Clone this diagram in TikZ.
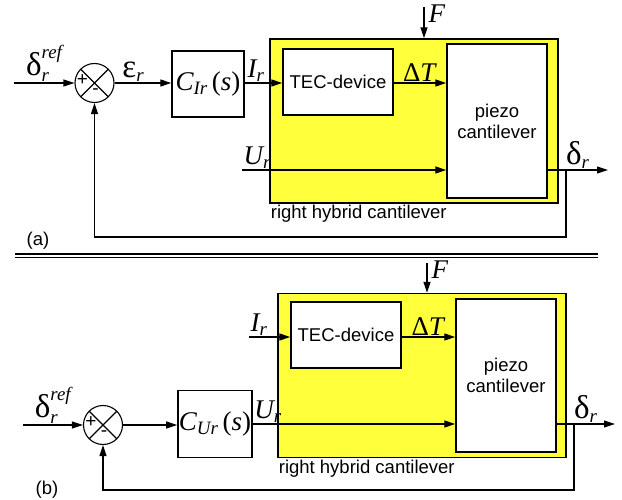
\documentclass[tikz,border=0pt]{standalone}
\usepackage{amsmath}
\usepackage{fontspec}
\setmainfont{Liberation Sans}
\newfontfamily\serf{Liberation Serif}
\usetikzlibrary{arrows.meta}
\definecolor{hybyellow}{RGB}{255,255,60}
\newcommand{\ivar}[1]{\text{\itshape #1}}
\newcommand{\uvar}[1]{\text{\upshape #1}}
\newcommand{\gvar}[1]{\text{\fontsize{33}{36}\selectfont #1}}

\begin{document}
\begin{tikzpicture}[x=1pt, y=-1pt, >={Triangle[length=11pt,width=7pt]}, line width=1.1pt,
  font=\fontsize{18.5}{21}\selectfont,
  blk/.style={draw, line width=1.4pt, fill=white, inner sep=0pt},
  hybox/.style={draw, line width=1.4pt, fill=hybyellow, minimum width=288pt, minimum height=164pt},
  summ/.style={draw, circle, minimum size=39pt, inner sep=0pt, path picture={
      \draw (path picture bounding box.north west) -- (path picture bounding box.south east)
            (path picture bounding box.south west) -- (path picture bounding box.north east);}},
  sig/.style={font=\serf\fontsize{27}{30}\selectfont, inner sep=1pt},
  sgn/.style={font=\fontsize{19}{21}\selectfont, inner sep=0pt}]
\useasboundingbox (0,0) rectangle (622,500);

% (a) current loop
\node[summ] (suma) at (94.5,83) {};
\node[sgn] at ([xshift=-12pt,yshift=3pt]suma.center) {+};
\node[sgn] at ([xshift=1pt,yshift=-9pt]suma.center) {-};
\node[blk, minimum width=72pt, minimum height=66pt, sig] (ca) at (208,84) {$\ivar{C}_{\ivar{Ir}}\,\uvar{(}\ivar{s}\uvar{)}$};
\node[hybox] (hcla) at (414,121) {};
\node[anchor=north west, inner sep=1pt] at (hcla.south west) {right hybrid cantilever};
\node[blk, minimum width=110pt, minimum height=66pt] (teca) at (338,82) {TEC-device};
\node[blk, minimum width=100pt, minimum height=154pt, align=center] (pza) at (497,121) {piezo\\cantilever};
\coordinate (ina) at (14,83);
\coordinate (ura) at (242,170);
\coordinate (outa) at (608,170);
\coordinate (tapa) at (566,170);
\coordinate (fba) at (566,237);
\coordinate (fa) at (424,7);
\draw[->] (ina) -- node[sig, above] {$\gvar{δ}^{\ivar{ref}}_{\ivar{r}}$} (suma.west);
\draw[->] (suma.east) -- node[sig, above, pos=0.33] {$\gvar{ε}_{\ivar{r}}$} (suma.east -| ca.west);
\draw[->] (suma.east -| ca.east) -- node[sig, above, pos=0.3] {$\ivar{I}_{\ivar{r}}$} (suma.east -| teca.west);
\draw[->] (suma.east -| teca.east) -- node[sig, above] {Δ\textit{T}} (suma.east -| pza.west);
\draw[->] (ura) node[sig, above right] {$\ivar{U}_{\ivar{r}}$} -- (ura -| pza.west);
\draw[->] (ura -| pza.east) -- node[sig, above] {$\gvar{δ}_{\ivar{r}}$} (outa);
\draw[->] (tapa) -- (fba) -| (suma.south);
\draw[->] (fa) node[sig, anchor=north west, xshift=3pt, yshift=4pt] {\textit{F}} -- (fa |- hcla.north);
\node at (38,241) {(a)};

\draw (15,254) -- (598,254) (15,257.5) -- (598,257.5);

% (b) voltage loop
\node[summ] (sumb) at (103,425) {};
\node[sgn] at ([xshift=-12pt,yshift=3pt]sumb.center) {+};
\node[sgn] at ([xshift=1pt,yshift=-9pt]sumb.center) {-};
\node[blk, minimum width=72pt, minimum height=67pt, sig] (cb) at (215,424) {$\ivar{C}_{\ivar{Ur}}\,\uvar{(}\ivar{s}\uvar{)}$};
\node[hybox] (hclb) at (422,375.5) {};
\node[anchor=north west, inner sep=1pt] at (hclb.south west) {right hybrid cantilever};
\node[blk, minimum width=110pt, minimum height=66pt] (tecb) at (346,335) {TEC-device};
\node[blk, minimum width=100pt, minimum height=153pt, align=center] (pzb) at (506,375.5) {piezo\\cantilever};
\coordinate (inb) at (23,425);
\coordinate (irb) at (249,337);
\coordinate (outb) at (615,424);
\coordinate (tapb) at (574,424);
\coordinate (fbb) at (574,490);
\coordinate (fb) at (427,263);
\draw[->] (inb) -- node[sig, above] {$\gvar{δ}^{\ivar{ref}}_{\ivar{r}}$} (sumb.west);
\draw[->] (sumb.east) -- (sumb.east -| cb.west);
\draw[->] (irb) node[sig, above right] {$\ivar{I}_{\ivar{r}}$} -- (irb -| tecb.west);
\draw[->] (irb -| tecb.east) -- node[sig, above] {Δ\textit{T}} (irb -| pzb.west);
\draw[->] (cb.east) node[sig, above right] {$\ivar{U}_{\ivar{r}}$} -- (cb.east -| pzb.west);
\draw[->] (cb.east -| pzb.east) -- node[sig, above] {$\gvar{δ}_{\ivar{r}}$} (outb);
\draw[->] (tapb) -- (fbb) -| (sumb.south);
\draw[->] (fb) node[sig, anchor=north west, xshift=3pt, yshift=4pt] {\textit{F}} -- (fb |- hclb.north);
\node at (47,490) {(b)};
\end{tikzpicture}
\end{document}
